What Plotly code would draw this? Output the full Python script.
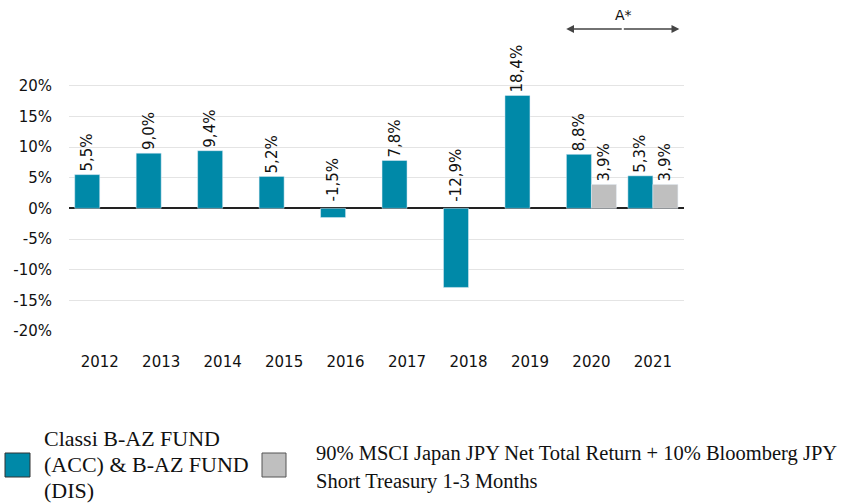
import plotly.graph_objects as go

years = ["2012", "2013", "2014", "2015", "2016", "2017", "2018", "2019", "2020", "2021"]
fund = [5.5, 9.0, 9.4, 5.2, -1.5, 7.8, -12.9, 18.4, 8.8, 5.3]
bench = [None, None, None, None, None, None, None, None, 3.9, 3.9]
y_ticks = [-20, -15, -10, -5, 0, 5, 10, 15, 20]
y_ticklabels = [f"{v}%" for v in y_ticks]
fund_name = "Classi B-AZ FUND (ACC) & B-AZ FUND (DIS)"
bench_name = "90% MSCI Japan JPY Net Total Return + 10% Bloomberg JPY Short Treasury 1-3 Months"

TEAL = "#0089A8"
GREY = "#BFBFBF"

def fmt(v):
    return "" if v is None else f"{v:.1f}%".replace(".", ",")

W, H = 844, 503
L, R, T, B = 69, 160, 55, 172
PW, PH = W - L - R, H - T - B
BARGAP = 0.186
BAR_PX = PW / len(years) * (1 - BARGAP) / 2

def px(x):
    return (x - L) / PW

def py(y):
    return (H - B - y) / PH

LABEL_FONT = dict(family="DejaVu Sans", size=15, color="#111")

fig = go.Figure()
fig.add_trace(go.Bar(
    x=years, y=fund, name=fund_name, marker_color=TEAL,
    text=[fmt(v) if v >= 0 else "" for v in fund], textposition="outside", textangle=-90,
    textfont=LABEL_FONT, cliponaxis=False, constraintext="none",
))
fig.add_trace(go.Bar(
    x=years, y=bench, name=bench_name, marker_color=GREY,
    text=[fmt(v) for v in bench], textposition="outside", textangle=-90,
    textfont=LABEL_FONT, cliponaxis=False, constraintext="none",
))

shapes = []
annotations = []

# labels of negative values sit above the zero line
for i, (yr, v) in enumerate(zip(years, fund)):
    if v < 0:
        annotations.append(dict(text=fmt(v), x=i, y=0, xref="x", yref="y",
                                xanchor="center", yanchor="bottom", textangle=-90,
                                xshift=-BAR_PX / 2, yshift=5, showarrow=False,
                                font=LABEL_FONT))

# legend (manual)
shapes.append(dict(type="rect", xref="paper", yref="paper",
                   x0=px(5), x1=px(30), y0=py(477), y1=py(453),
                   fillcolor=TEAL, line=dict(color="#333", width=1)))
shapes.append(dict(type="rect", xref="paper", yref="paper",
                   x0=px(262), x1=px(286), y0=py(477), y1=py(453),
                   fillcolor=GREY, line=dict(color="#555", width=1)))
leg1 = [("Classi B-AZ FUND", 438), ("(ACC) & B-AZ FUND", 464), ("(DIS)", 490)]
for txt, yy in leg1:
    annotations.append(dict(text=txt, xref="paper", yref="paper", x=px(42), y=py(yy),
                            xanchor="left", yanchor="middle", showarrow=False,
                            font=dict(family="Liberation Serif", size=22, color="#111")))
leg2 = [("90% MSCI Japan JPY Net Total Return + 10% Bloomberg JPY", 453),
        ("Short Treasury 1-3 Months", 481)]
for txt, yy in leg2:
    annotations.append(dict(text=txt, xref="paper", yref="paper", x=px(314), y=py(yy),
                            xanchor="left", yanchor="middle", showarrow=False,
                            font=dict(family="Liberation Serif", size=20.5, color="#111")))

# A* arrow
arrow_y = py(29)
annotations.append(dict(text="", x=8 - 0.41, y=arrow_y, xref="x", yref="paper",
                        ax=57, ay=0, showarrow=True, arrowhead=2, arrowsize=1.2,
                        arrowwidth=1.3, arrowcolor="#444"))
annotations.append(dict(text="", x=9 + 0.43, y=arrow_y, xref="x", yref="paper",
                        ax=-57, ay=0, showarrow=True, arrowhead=2, arrowsize=1.2,
                        arrowwidth=1.3, arrowcolor="#444"))
annotations.append(dict(text="A*", x=8.52, y=py(15), xref="x", yref="paper",
                        showarrow=False, xanchor="center", yanchor="middle",
                        font=dict(family="DejaVu Sans", size=14, color="#111")))

fig.update_layout(
    width=W, height=H,
    margin=dict(l=L, r=R, t=T, b=B),
    paper_bgcolor="white", plot_bgcolor="white",
    barmode="group", bargap=BARGAP, bargroupgap=0,
    showlegend=False,
    shapes=shapes, annotations=annotations,
    font=dict(family="DejaVu Sans", size=15, color="#111"),
)
fig.update_xaxes(type="category", showgrid=False, showline=False, ticks="",
                 ticklabelstandoff=20,
                 tickfont=dict(family="DejaVu Sans", size=15, color="#111"))
fig.update_yaxes(range=[-20, 25], tickvals=y_ticks, ticktext=y_ticklabels,
                 showgrid=True, gridcolor="#E4E4E4", gridwidth=1,
                 zeroline=True, zerolinecolor="#222", zerolinewidth=2,
                 showline=False, ticks="", ticklabelstandoff=16,
                 tickfont=dict(family="DejaVu Sans", size=15, color="#111"))

fig.write_html("out.html", config={"displayModeBar": False},
               post_script="document.body.style.margin='0px';")
